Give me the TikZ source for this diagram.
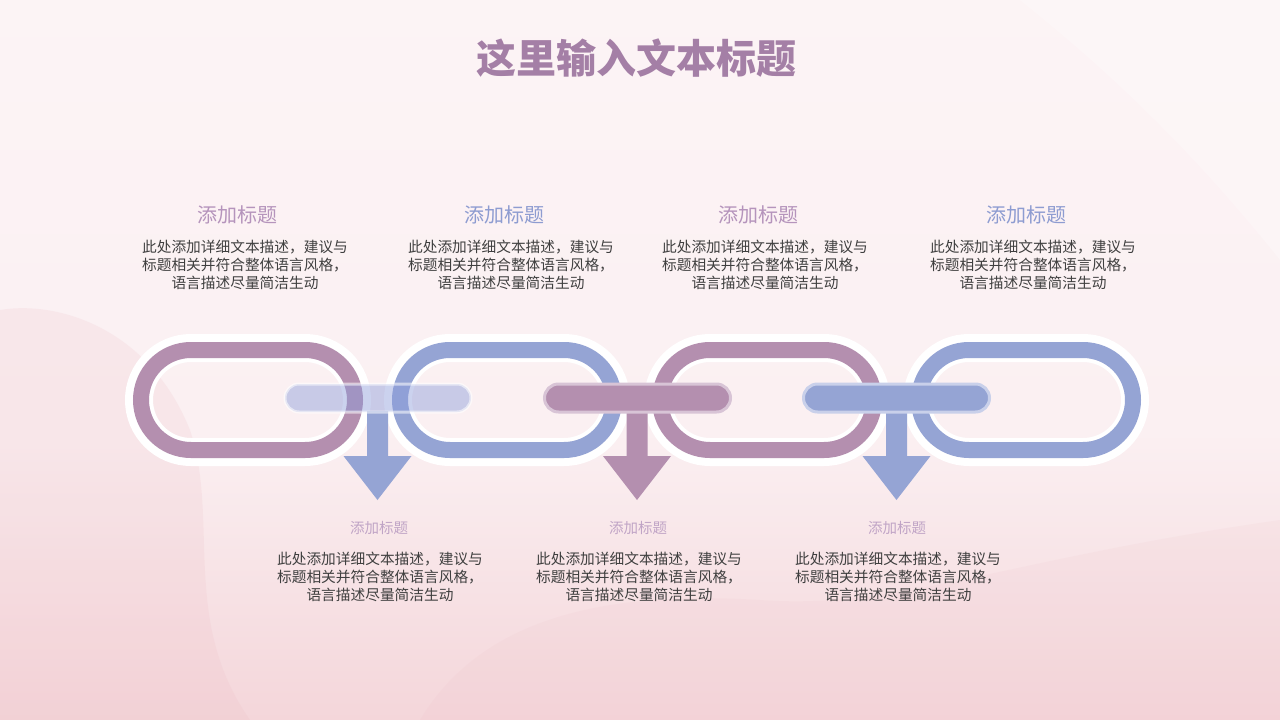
\documentclass[tikz,border=0pt]{standalone}
\usepackage{fontspec}
\setmainfont{Noto Sans CJK SC}
\definecolor{lpurple}{HTML}{B48FAF}
\definecolor{lblue}{HTML}{95A4D4}
\definecolor{ttlpurple}{HTML}{A47FA6}
\definecolor{hpurple}{HTML}{B594BC}
\definecolor{hblue}{HTML}{8E9CD1}
\definecolor{bodygray}{HTML}{3F3F3F}
\definecolor{bgtop}{HTML}{FDF7F8}
\definecolor{bgup}{HTML}{FBF0F2}
\definecolor{bgmid}{HTML}{F4D6DA}
\definecolor{bgbot}{HTML}{EEC3CA}
\definecolor{blobpink}{HTML}{EBB8C0}
\definecolor{purpleedge}{HTML}{D8C4D6}
\definecolor{blueedge}{HTML}{C9D0EA}
\definecolor{bar1fill}{HTML}{8C9CDB}
\pgfdeclareverticalshading{bgshade}{100bp}{color(0bp)=(bgbot); color(25bp)=(bgmid); color(45bp)=(bgup); color(100bp)=(bgtop)}
\begin{document}
\begin{tikzpicture}[x=1pt,y=-1pt,
  ringwhite/.style={draw=white, line width=28pt, rounded corners=52pt,
    minimum width=218pt, minimum height=104pt, inner sep=0pt, outer sep=0pt},
  ringcol/.style={draw=#1, line width=16pt, rounded corners=50pt,
    minimum width=214pt, minimum height=100pt, inner sep=0pt, outer sep=0pt},
  barbox/.style={rounded corners=14pt, minimum width=186pt, minimum height=28pt,
    inner sep=0pt, outer sep=0pt, line width=3pt},
  toptitle/.style={font=\fontsize{20}{22}\selectfont, inner sep=0pt},
  bottitle/.style={font=\fontsize{14.5}{16}\selectfont, inner sep=0pt, text=hpurple!85},
  bodytext/.style={font=\fontsize{14.7}{18}\selectfont, align=center, inner sep=0pt, text=bodygray},
]
\useasboundingbox (0,0) rectangle (1280,720);
% background
\shade[shading=bgshade] (0,0) rectangle (1280,720);
\fill[blobpink, opacity=0.16] (0,310) .. controls (60,300) and (150,330) .. (190,430)
  .. controls (220,520) and (180,620) .. (250,720) -- (0,720) -- cycle;
\fill[blobpink, opacity=0.10] (420,720) .. controls (480,620) and (600,590) .. (760,600)
  .. controls (900,610) and (1000,560) .. (1280,520) -- (1280,720) -- cycle;
\fill[white, opacity=0.25] (1020,0) .. controls (1120,80) and (1200,160) .. (1280,260) -- (1280,0) -- cycle;

% title
\node[font=\fontsize{40}{44}\selectfont\bfseries, text=ttlpurple, inner sep=0pt] (title) at (636,58) {这里输入文本标题};

% rings
\foreach \x/\n in {248/l1, 507/l2, 767/l3, 1026/l4}{
  \node[ringwhite] (\n w) at (\x,400) {};
}
\foreach \x/\c/\n in {248/lpurple/l1, 507/lblue/l2, 767/lpurple/l3, 1026/lblue/l4}{
  \node[ringcol=\c] (\n) at (\x,400) {};
}

% arrows
\coordinate (a1) at (377.5,400);
\coordinate (a2) at (637,400);
\coordinate (a3) at (896.5,400);
\foreach \a/\c in {a1/lblue, a2/lpurple, a3/lblue}{
  \fill[\c, shift={(\a)}] (-10.5,11) -- (-10.5,56) -- (-34,56) -- (0,100) -- (34,56) -- (10.5,56) -- (10.5,11) -- cycle;
}

% bars
\node[barbox, fill=bar1fill, fill opacity=0.45, draw=white, draw opacity=0.55] (bar1) at (378,398) {};
\node[barbox, fill=lpurple, draw=purpleedge] (bar2) at (637.5,398) {};
\node[barbox, fill=lblue, draw=blueedge] (bar3) at (896.5,398) {};

% top texts
\node[toptitle, text=hpurple] (t1) at (237,215) {添加标题};
\node[toptitle, text=hblue] (t2) at (504,215) {添加标题};
\node[toptitle, text=hpurple] (t3) at (758,215) {添加标题};
\node[toptitle, text=hblue] (t4) at (1026,215) {添加标题};
\foreach \x/\n in {245/b1, 511/b2, 765/b3, 1033/b4}{
  \node[bodytext] (\n) at (\x,265) {此处添加详细文本描述，建议与\\标题相关并符合整体语言风格，\\语言描述尽量简洁生动};
}

% bottom texts
\foreach \x/\n in {379/s1, 638/s2, 897/s3}{
  \node[bottitle] (\n) at (\x,528) {添加标题};
}
\foreach \x/\n in {380/d1, 639/d2, 898/d3}{
  \node[bodytext] (\n) at (\x,577) {此处添加详细文本描述，建议与\\标题相关并符合整体语言风格，\\语言描述尽量简洁生动};
}
\end{tikzpicture}
\end{document}
